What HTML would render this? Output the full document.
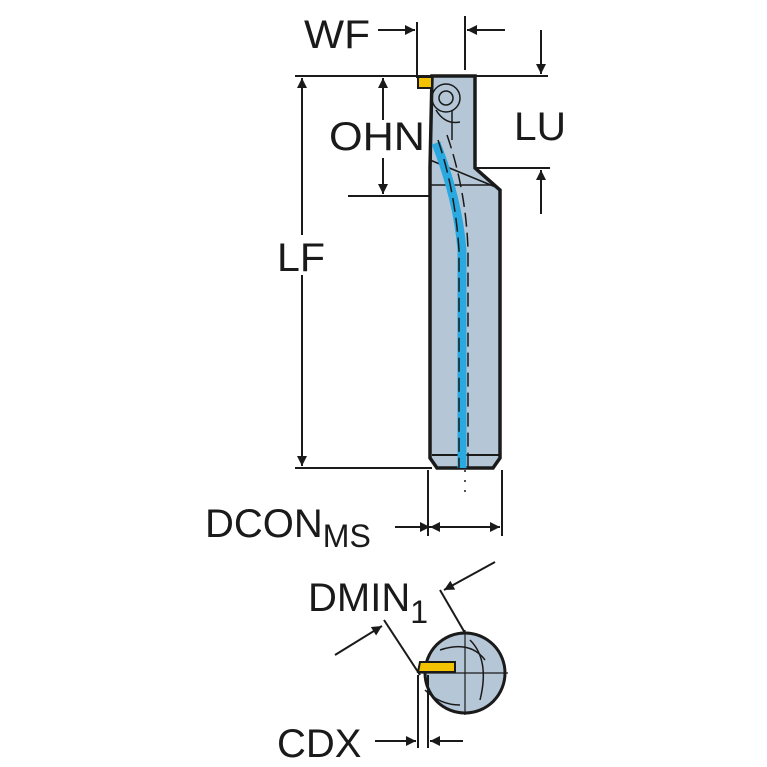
<!DOCTYPE html>
<html><head><style>html,body{margin:0;padding:0;background:#fff}svg{display:block}</style></head>
<body>
<svg width="767" height="767" viewBox="0 0 767 767" xmlns="http://www.w3.org/2000/svg" font-family="Liberation Sans, sans-serif" fill="#1a1a1a">
<defs>
<marker id="a" viewBox="0 0 10 10" refX="10" refY="5" markerWidth="12" markerHeight="10" orient="auto-start-reverse" markerUnits="userSpaceOnUse"><path d="M0,0 L10,5 L0,10 z" fill="#1a1a1a"/></marker>
<marker id="b" viewBox="0 0 10 10" refX="10" refY="5" markerWidth="18" markerHeight="10" orient="auto-start-reverse" markerUnits="userSpaceOnUse"><path d="M0,0 L10,5 L0,10 z" fill="#1a1a1a"/></marker>
</defs>
<g stroke="#1a1a1a" stroke-width="2" fill="none">
<path d="M432,76 L475,76 L475,168 L500,190 L500,458 L493,468 L437,468 L430,458 L430,168 Z" fill="#b5c7d6" stroke-width="3.5"/>
<line x1="432" y1="455" x2="500" y2="455"/>
<line x1="430" y1="185" x2="495" y2="185" stroke-width="1.5"/>
<path d="M430,160 L498,188" stroke-width="1.5"/>
<circle cx="446" cy="98" r="14" stroke-width="1.5"/>
<circle cx="446" cy="98" r="7" stroke-width="1.5"/>
<path d="M436,110 Q445,125 460,122" stroke-width="1.5"/>
<line x1="452" y1="110" x2="452" y2="140" stroke-width="1.5"/>
</g>
<path d="M436,143 Q458,200 462,250 L462,468" stroke="#29a9e0" stroke-width="9" fill="none"/>
<g stroke="#1a1a1a" stroke-width="1.5" stroke-dasharray="14,6" fill="none">
<path d="M438,140 Q455,190 459,250 L459,468"/>
<path d="M447,135 Q466,190 468,250 L468,468"/>
</g>
<line x1="465" y1="470" x2="465" y2="500" stroke="#1a1a1a" stroke-width="1.5" stroke-dasharray="2,8"/>
<rect x="418" y="77" width="14" height="11" fill="#f2c200" stroke="#1a1a1a" stroke-width="2"/>
<g stroke="#1a1a1a" stroke-width="2" fill="none">
<line x1="295" y1="76" x2="548" y2="76"/>
<line x1="295" y1="468" x2="432" y2="468"/>
<line x1="302" y1="235" x2="302" y2="78" marker-end="url(#b)"/>
<line x1="302" y1="275" x2="302" y2="466" marker-end="url(#b)"/>
<line x1="383" y1="120" x2="383" y2="78" marker-end="url(#b)"/>
<line x1="383" y1="158" x2="383" y2="194" marker-end="url(#b)"/>
<line x1="348" y1="196" x2="430" y2="196"/>
<line x1="417" y1="22" x2="417" y2="78"/>
<line x1="378" y1="30" x2="415" y2="30" marker-end="url(#a)"/>
<line x1="465" y1="16" x2="465" y2="70"/>
<line x1="505" y1="30" x2="467" y2="30" marker-end="url(#a)"/>
<line x1="541" y1="30" x2="541" y2="74" marker-end="url(#b)"/>
<line x1="475" y1="168" x2="550" y2="168"/>
<line x1="541" y1="214" x2="541" y2="170" marker-end="url(#b)"/>
<line x1="428" y1="470" x2="428" y2="536"/>
<line x1="502" y1="470" x2="502" y2="536"/>
<line x1="395" y1="527" x2="430" y2="527" marker-end="url(#a)"/>
<line x1="430" y1="527" x2="500" y2="527" marker-start="url(#a)" marker-end="url(#a)"/>
</g>
<g stroke="#1a1a1a" stroke-width="2" fill="none">
<circle cx="465" cy="673" r="40" fill="#b5c7d6" stroke-width="3"/>
<path d="M440,650 Q470,640 485,660" stroke-width="1.5"/>
<path d="M470,640 Q490,660 480,700" stroke-width="1.5"/>
<path d="M425,690 Q440,705 460,705" stroke-width="1.5"/>
<line x1="465" y1="630" x2="465" y2="715" stroke-width="1.2"/>
<line x1="420" y1="673" x2="508" y2="673" stroke-width="1.2"/>
</g>
<path d="M420,662 L455,662 L455,672 L418,672 Z" fill="#f2c200" stroke="#1a1a1a" stroke-width="2"/>
<g stroke="#1a1a1a" stroke-width="2" fill="none">
<line x1="384" y1="620" x2="420" y2="675"/>
<line x1="335" y1="655" x2="382" y2="626" marker-end="url(#a)"/>
<line x1="440" y1="590" x2="465" y2="633"/>
<line x1="495" y1="562" x2="444" y2="590" marker-end="url(#a)"/>
<line x1="418" y1="675" x2="418" y2="748"/>
<line x1="428" y1="675" x2="428" y2="748"/>
<line x1="375" y1="741" x2="416" y2="741" marker-end="url(#a)"/>
<line x1="463" y1="741" x2="430" y2="741" marker-end="url(#a)"/>
</g>
<g font-size="40">
<text x="304" y="48" textLength="66" lengthAdjust="spacingAndGlyphs">WF</text>
<text x="329" y="150" textLength="96" lengthAdjust="spacingAndGlyphs">OHN</text>
<text x="514" y="140" textLength="52" lengthAdjust="spacingAndGlyphs">LU</text>
<text x="277" y="271" textLength="48" lengthAdjust="spacingAndGlyphs">LF</text>
<text x="205" y="537">DCON<tspan font-size="32" dy="10">MS</tspan></text>
<text x="308" y="611">DMIN<tspan font-size="32" dy="12">1</tspan></text>
<text x="277" y="757">CDX</text>
</g>
</svg>
</body></html>
